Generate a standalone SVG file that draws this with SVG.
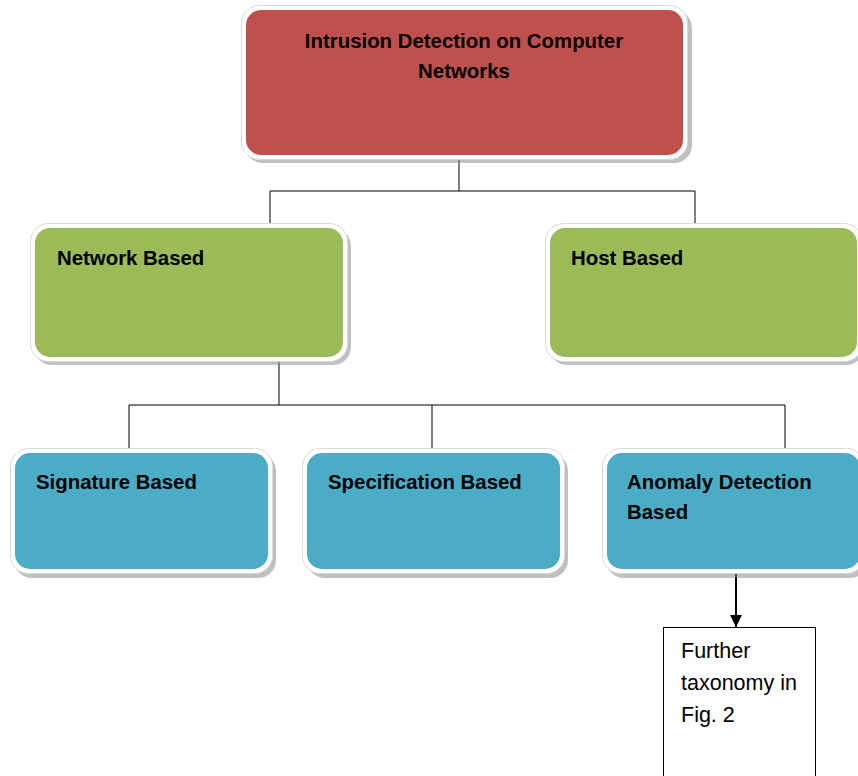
<svg xmlns="http://www.w3.org/2000/svg" width="858" height="776" viewBox="0 0 858 776">
  <style>
    .shadow { fill: #8c8c8c; opacity: 0.55; }
    .frame { fill: #ffffff; stroke: #d9d9d9; stroke-width: 1; }
    .red { fill: #C0504D; }
    .green { fill: #9BBB59; }
    .blue { fill: #4BACC6; }
    .lbl { font-family: "Liberation Sans", Arial, sans-serif; font-weight: bold; font-size: 20.4px; fill: #000000; }
    .note { font-family: "Liberation Sans", Arial, sans-serif; font-size: 21.5px; fill: #000000; }
    .wire { fill: none; stroke: #000000; stroke-width: 1; }
  </style>
  <defs>
    <marker id="arrow" viewBox="0 0 12 12" refX="12" refY="6" markerWidth="12" markerHeight="12" markerUnits="userSpaceOnUse" orient="auto">
      <path d="M0,0 L12,6 L0,12 Z" fill="#000000"/>
    </marker>
  </defs>
  <rect width="858" height="776" fill="#ffffff"/>

  <!-- connectors -->
  <g id="connectors">
    <path class="wire" d="M459,158 V191 M270,191 H695 M270,191 V226 M695,191 V226"/>
    <path class="wire" d="M279,360 V405 M129,405 H785 M129,405 V451 M432,405 V451 M785,405 V451"/>
    <line x1="736" y1="572" x2="736" y2="627" stroke="#000" stroke-width="2" marker-end="url(#arrow)"/>
  </g>

  <!-- root -->
  <g id="root">
    <rect class="shadow" x="245" y="10" width="447" height="153" rx="18"/>
    <rect class="frame" x="241.5" y="5.5" width="446" height="154" rx="18"/>
    <rect class="red" x="246" y="10" width="437" height="145" rx="15"/>
    <text class="lbl" x="464" y="48" text-anchor="middle">Intrusion Detection on Computer</text>
    <text class="lbl" x="464" y="78" text-anchor="middle">Networks</text>
  </g>

  <!-- second level -->
  <g id="network-based">
    <rect class="shadow" x="34" y="228" width="317" height="137" rx="18"/>
    <rect class="frame" x="30.5" y="223.5" width="317" height="138" rx="18"/>
    <rect class="green" x="35" y="228" width="308" height="129" rx="15"/>
    <text class="lbl" x="57" y="265">Network Based</text>
  </g>
  <g id="host-based">
    <rect class="shadow" x="549" y="228" width="315" height="137" rx="18"/>
    <rect class="frame" x="545.5" y="223.5" width="317" height="138" rx="18"/>
    <rect class="green" x="550" y="228" width="307" height="129" rx="15"/>
    <text class="lbl" x="571" y="265">Host Based</text>
  </g>

  <!-- third level -->
  <g id="signature-based">
    <rect class="shadow" x="14" y="453" width="262" height="125" rx="18"/>
    <rect class="frame" x="10.5" y="448.5" width="262" height="125" rx="18"/>
    <rect class="blue" x="15" y="453" width="253" height="116" rx="15"/>
    <text class="lbl" x="36" y="489">Signature Based</text>
  </g>
  <g id="specification-based">
    <rect class="shadow" x="307" y="453" width="261" height="125" rx="18"/>
    <rect class="frame" x="302.5" y="448.5" width="262" height="125" rx="18"/>
    <rect class="blue" x="307" y="453" width="253" height="116" rx="15"/>
    <text class="lbl" x="328" y="489">Specification Based</text>
  </g>
  <g id="anomaly-based">
    <rect class="shadow" x="606" y="453" width="262" height="125" rx="18"/>
    <rect class="frame" x="602.5" y="448.5" width="262" height="125" rx="18"/>
    <rect class="blue" x="607" y="453" width="253" height="116" rx="15"/>
    <text class="lbl" x="627" y="489">Anomaly Detection</text>
    <text class="lbl" x="627" y="519">Based</text>
  </g>

  <!-- reference box -->
  <g id="further-taxonomy">
    <rect x="663.5" y="627.5" width="152" height="160" fill="#ffffff" stroke="#000000" stroke-width="1"/>
    <text class="note" x="681" y="658">Further</text>
    <text class="note" x="681" y="690">taxonomy in</text>
    <text class="note" x="681" y="722">Fig. 2</text>
  </g>
</svg>
